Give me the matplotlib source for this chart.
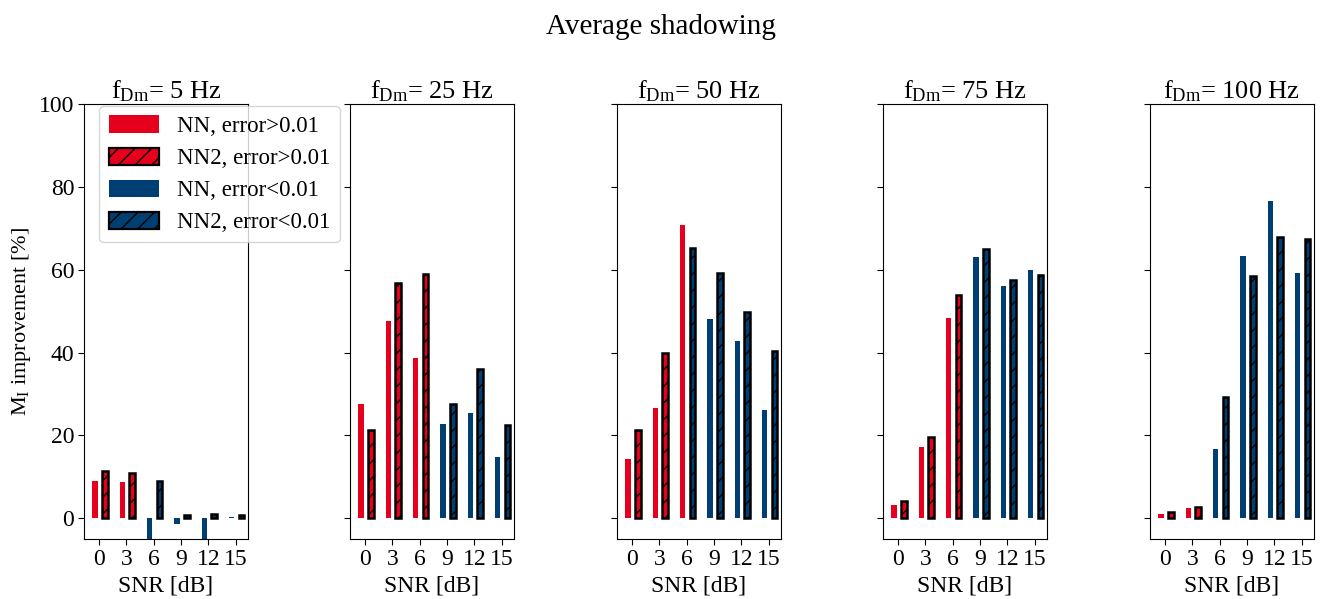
import numpy as np
import matplotlib
matplotlib.use("Agg")
import matplotlib.pyplot as plt
from matplotlib.patches import Patch

plt.rcParams['font.family'] = ['Liberation Serif', 'DejaVu Serif']
plt.rcParams['mathtext.fontset'] = 'custom'
plt.rcParams['mathtext.rm'] = 'Liberation Serif'
plt.rcParams['mathtext.it'] = 'Liberation Serif:italic'
plt.rcParams['hatch.linewidth'] = 1.0

snr_labels = ['0', '3', '6', '9', '12', '15']
panel_titles = [r'f$_{\mathrm{Dm}}$= 5 Hz', r'f$_{\mathrm{Dm}}$= 25 Hz', r'f$_{\mathrm{Dm}}$= 50 Hz',
                r'f$_{\mathrm{Dm}}$= 75 Hz', r'f$_{\mathrm{Dm}}$= 100 Hz']

# NN values (%) per panel
nn_5 = [9.0, 8.7, -7.0, -1.4, -7.0, 0.3]
nn_25 = [27.5, 47.6, 38.8, 22.8, 25.3, 14.7]
nn_50 = [14.4, 26.6, 70.9, 48.1, 42.8, 26.2]
nn_75 = [3.3, 17.2, 48.3, 63.0, 56.1, 59.9]
nn_100 = [1.1, 2.5, 16.7, 63.3, 76.6, 59.3]

# NN2 values (%) per panel
nn2_5 = [11.3, 11.0, 8.9, 0.9, 1.1, 0.8]
nn2_25 = [21.2, 56.7, 58.9, 27.6, 36.1, 22.6]
nn2_50 = [21.4, 39.8, 65.3, 59.1, 49.9, 40.4]
nn2_75 = [4.2, 19.6, 53.9, 65.1, 57.6, 58.8]
nn2_100 = [1.4, 2.8, 29.2, 58.4, 67.8, 67.3]

# error class per bar: 'hi' = error>0.01 (red), 'lo' = error<0.01 (blue)
nn_cls_5 = ['hi', 'hi', 'lo', 'lo', 'lo', 'lo']
nn_cls_25 = ['hi', 'hi', 'hi', 'lo', 'lo', 'lo']
nn_cls_50 = ['hi', 'hi', 'hi', 'lo', 'lo', 'lo']
nn_cls_75 = ['hi', 'hi', 'hi', 'lo', 'lo', 'lo']
nn_cls_100 = ['hi', 'hi', 'lo', 'lo', 'lo', 'lo']

nn2_cls_5 = ['hi', 'hi', 'lo', 'lo', 'lo', 'lo']
nn2_cls_25 = ['hi', 'hi', 'hi', 'lo', 'lo', 'lo']
nn2_cls_50 = ['hi', 'hi', 'lo', 'lo', 'lo', 'lo']
nn2_cls_75 = ['hi', 'hi', 'hi', 'lo', 'lo', 'lo']
nn2_cls_100 = ['hi', 'hi', 'lo', 'lo', 'lo', 'lo']

nn_all = [nn_5, nn_25, nn_50, nn_75, nn_100]
nn2_all = [nn2_5, nn2_25, nn2_50, nn2_75, nn2_100]
nn_cls_all = [nn_cls_5, nn_cls_25, nn_cls_50, nn_cls_75, nn_cls_100]
nn2_cls_all = [nn2_cls_5, nn2_cls_25, nn2_cls_50, nn2_cls_75, nn2_cls_100]

RED = '#e6001e'
BLUE = '#003f73'
cmap = {'hi': RED, 'lo': BLUE}

fig = plt.figure(figsize=(13.21, 5.99), dpi=100)
lefts = [84, 350, 617, 883, 1150]
W, H = 1321, 599
top_px, bot_px = 104, 539
x = np.arange(len(snr_labels))
axes = []
for i in range(5):
    ax = fig.add_axes([lefts[i] / W, 1 - bot_px / H, 164 / W, (bot_px - top_px) / H])
    axes.append(ax)
    ax.bar(x - 0.15, nn_all[i], width=0.19, color=[cmap[c] for c in nn_cls_all[i]], linewidth=0)
    ax.bar(x + 0.21, nn2_all[i], width=0.2, color=[cmap[c] for c in nn2_cls_all[i]],
           edgecolor='black', linewidth=1.8, hatch='//')
    ax.set_ylim(-5, 100)
    ax.set_xlim(-0.55, 5.45)
    ax.set_xticks(x)
    ax.set_xticklabels(snr_labels)
    ax.set_yticks([0, 20, 40, 60, 80, 100])
    ax.tick_params(labelsize=17, length=4, pad=3)
    if i > 0:
        ax.set_yticklabels([])
    ax.set_xlabel('SNR [dB]', fontsize=17, labelpad=4)
    ax.set_title(panel_titles[i], fontsize=19, pad=3)

axes[0].set_ylabel(r'M$_{\mathrm{I}}$ improvement [%]', fontsize=16, labelpad=4)

handles = [Patch(facecolor=RED, label='NN, error>0.01'),
           Patch(facecolor=RED, edgecolor='black', hatch='//', linewidth=1.6, label='NN2, error>0.01'),
           Patch(facecolor=BLUE, label='NN, error<0.01'),
           Patch(facecolor=BLUE, edgecolor='black', hatch='//', linewidth=1.6, label='NN2, error<0.01')]
leg = axes[0].legend(handles=handles, loc='upper left', bbox_to_anchor=(0.08, 1.0),
                     fontsize=16.5, framealpha=0.8, handlelength=2.2, handleheight=0.8,
                     borderaxespad=0.1, labelspacing=0.45)
leg.set_zorder(10)

fig.suptitle('Average shadowing', fontsize=21, y=0.977)
fig.savefig('out.png', dpi=100)
